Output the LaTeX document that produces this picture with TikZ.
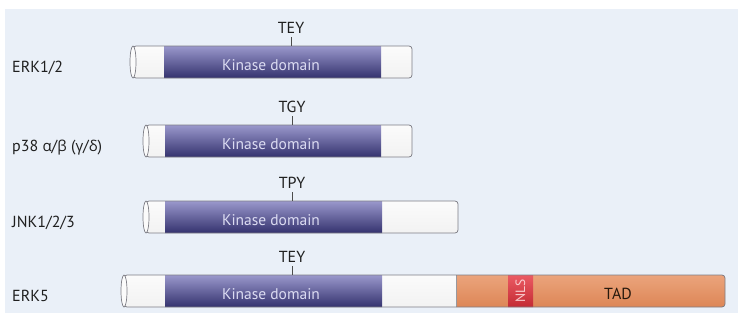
\documentclass[tikz,border=0pt]{standalone}
\usepackage{fontspec}
\setmainfont{PT Sans}
\newfontfamily\greekfont{Open Sans}
\definecolor{panel}{HTML}{EAF0F8}
\definecolor{edge}{HTML}{7E7E86}
\definecolor{kintop}{HTML}{9A98CC}
\definecolor{kinmid}{HTML}{5C5AA2}
\definecolor{kinbot}{HTML}{34326E}
\definecolor{ortop}{HTML}{EBA47C}
\definecolor{ormid}{HTML}{F8C8A8}
\definecolor{orbot}{HTML}{DD8656}
\definecolor{nlsred}{HTML}{E6323C}
\definecolor{kintext}{HTML}{DCDCF2}
\tikzset{
  whitefill/.style={top color=gray!3, middle color=white, bottom color=gray!10},
  kinfill/.style={top color=kintop, middle color=kinmid, bottom color=kinbot},
  tadfill/.style={top color=ortop, middle color=ormid, bottom color=orbot},
  nlsfill/.style={top color=nlsred!80!white, middle color=nlsred, bottom color=nlsred!85!black},
  outline/.style={draw=edge, line width=0.7pt, rounded corners=3pt},
  endcap/.style={draw=edge, line width=0.7pt, fill=gray!3},
  sidelabel/.style={anchor=base west, font=\fontsize{16}{18}\selectfont, text=black!88, inner sep=0pt},
  motif/.style={anchor=base, font=\fontsize{16}{18}\selectfont, text=black!88, inner sep=0pt},
  kinlabel/.style={anchor=base, font=\fontsize{15.5}{18}\selectfont, text=kintext, inner sep=0pt},
  tick/.style={draw=black!70, line width=0.6pt}
}
% \protbar{x0}{x1}{top}{kinase start}{kinase end}
\newcommand{\protbar}[5]{%
  \begin{scope}
    \clip[rounded corners=3pt] (#1+3,#3) rectangle (#2,#3+32);
    \fill[whitefill] (#1,#3) rectangle (#2,#3+32);
    \fill[kinfill] (#4,#3) rectangle (#5,#3+32);
  \end{scope}
}
\newcommand{\grk}[1]{{\greekfont\fontsize{15}{18}\selectfont #1}}
\begin{document}
\begin{tikzpicture}[x=1pt,y=-1pt]
  \useasboundingbox (0,0) rectangle (738,322);
  \fill[panel] (5,9) rectangle (738,313);

  % ERK1/2
  \protbar{130}{412}{46}{164}{381}
  \draw[outline] (133,46) rectangle (412,78);
  \draw[endcap] (133,62) ellipse [x radius=3, y radius=16];
  \node[sidelabel] (erk12) at (12,72) {ERK1/2};
  \node[kinlabel] (kin1) at (271,70.5) {Kinase domain};
  \node[motif] (tey1) at (291,33) {TEY};
  \coordinate (bar1) at (291,46);
  \draw[tick] ([yshift=-4pt]tey1.base) -- (bar1);

  % p38
  \protbar{143}{412}{125}{165}{381}
  \draw[outline] (146,125) rectangle (412,157);
  \draw[endcap] (146,141) ellipse [x radius=3, y radius=16];
  \node[sidelabel] (p38) at (12,151) {p38 \grk{α}/\grk{β} (\grk{γ}/\grk{δ})};
  \node[kinlabel] (kin2) at (271,149.5) {Kinase domain};
  \node[motif] (tgy) at (292,112) {TGY};
  \coordinate (bar2) at (292,125);
  \draw[tick] ([yshift=-4pt]tgy.base) -- (bar2);

  % JNK1/2/3
  \protbar{143}{458}{201}{165}{382}
  \draw[outline] (146,201) rectangle (458,233);
  \draw[endcap] (146,217) ellipse [x radius=3, y radius=16];
  \node[sidelabel] (jnk) at (12,227) {JNK1/2/3};
  \node[kinlabel] (kin3) at (271,225.5) {Kinase domain};
  \node[motif] (tpy) at (292,188) {TPY};
  \coordinate (bar3) at (292,201);
  \draw[tick] ([yshift=-4pt]tpy.base) -- (bar3);

  % ERK5
  \protbar{121}{725}{275}{165}{382}
  \begin{scope}
    \clip[rounded corners=3pt] (124,275) rectangle (725,307);
    \fill[tadfill] (456,275) rectangle (725,307);
    \fill[nlsfill] (508,275) rectangle (533,307);
  \end{scope}
  \draw[edge!80, line width=0.4pt] (456,275) -- (456,307);
  \draw[outline] (124,275) rectangle (725,307);
  \draw[endcap] (124,291) ellipse [x radius=3, y radius=16];
  \node[sidelabel] (erk5) at (12,301) {ERK5};
  \node[kinlabel] (kin4) at (271,299.5) {Kinase domain};
  \node[motif] (tey5) at (292,262) {TEY};
  \coordinate (bar4) at (292,275);
  \draw[tick] ([yshift=-4pt]tey5.base) -- (bar4);
  \node[rotate=90, font=\fontsize{13.5}{16}\selectfont, text=nlsred!25!white, inner sep=0pt] (nls) at (520.5,291) {NLS};
  \node[motif, text=black!80!brown] (tad) at (618,299) {TAD};
\end{tikzpicture}
\end{document}
